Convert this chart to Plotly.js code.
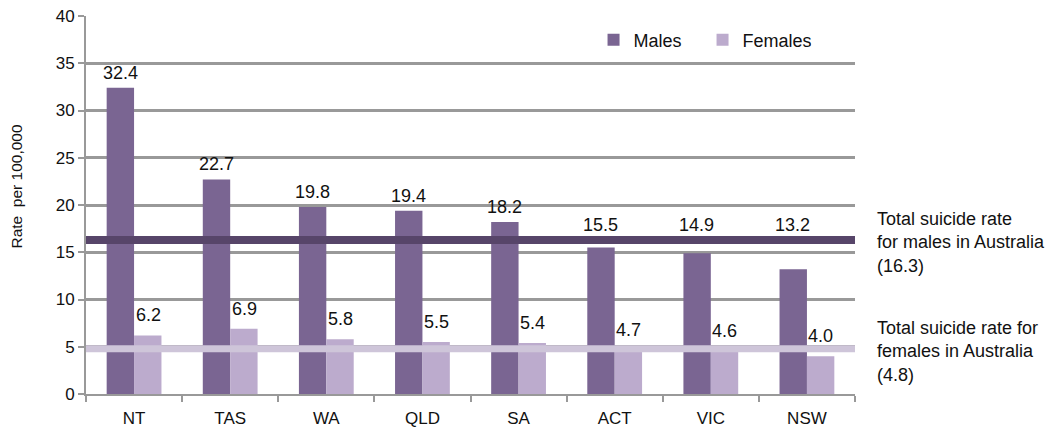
<!DOCTYPE html>
<html><head><meta charset="utf-8">
<script src="https://cdn.plot.ly/plotly-3.0.1.min.js"></script>
<style>body{margin:0;background:#fff}#chart{width:1061px;height:430px}</style>
</head><body><div id="chart"></div>
<script>
const states = ["NT","TAS","WA","QLD","SA","ACT","VIC","NSW"];
const males = [32.4,22.7,19.8,19.4,18.2,15.5,14.9,13.2];
const females = [6.2,6.9,5.8,5.5,5.4,4.7,4.6,4.0];
const maleTotal = 16.3;
const femaleTotal = 4.8;
const yTicks = [0,5,10,15,20,25,30,35,40];

const font = "Liberation Sans, Arial, sans-serif";
const traces = [
  {type:"bar", name:"Males", x:states, y:males, marker:{color:"#7a6592"}},
  {type:"bar", name:"Females", x:states, y:females, marker:{color:"#bcabcd"}}
];

// value labels: male labels sit above the national-total line when the bar is lower
const labelAnns = [];
states.forEach((s, i) => {
  labelAnns.push({x:s, y:Math.max(males[i], maleTotal), xref:"x", yref:"y",
    xshift:-14, yshift:3, yanchor:"bottom", showarrow:false,
    text:males[i].toFixed(1), font:{size:18, color:"#111"}});
  labelAnns.push({x:s, y:females[i], xref:"x", yref:"y",
    xshift:14, yshift:8, yanchor:"bottom", showarrow:false,
    text:females[i].toFixed(1), font:{size:18, color:"#111"}});
});

const layout = {
  width:1061, height:430,
  margin:{l:86, r:206, t:16, b:36},
  paper_bgcolor:"#fff", plot_bgcolor:"#fff",
  font:{family:font, size:17, color:"#111"},
  barmode:"group", bargap:0.43, bargroupgap:0,
  showlegend:true,
  legend:{orientation:"h", x:0.66, y:0.985, xanchor:"left", yanchor:"top",
          font:{size:18}, bgcolor:"rgba(0,0,0,0)", itemwidth:30, entrywidth:64},
  xaxis:{type:"category", tickson:"boundaries", ticks:"outside", ticklen:6,
         tickcolor:"#999", tickwidth:2, showline:true, linecolor:"#999", linewidth:2,
         showgrid:false, tickfont:{size:17}, ticklabelstandoff:8, fixedrange:true},
  yaxis:{range:[0,40], tickvals:yTicks, ticks:"outside", ticklen:6, tickcolor:"#999",
         tickwidth:2, showline:true, linecolor:"#999", linewidth:2,
         gridcolor:"#999", gridwidth:3, zeroline:false, tickfont:{size:17}},
  shapes:[
    {type:"line", xref:"paper", yref:"y", x0:0, x1:1, y0:maleTotal, y1:maleTotal,
     line:{color:"#574569", width:8}, layer:"above"},
    {type:"line", xref:"paper", yref:"y", x0:0, x1:1, y0:femaleTotal, y1:femaleTotal,
     line:{color:"#cec5d9", width:7}, layer:"above"}
  ],
  annotations:labelAnns.concat([
    {xref:"paper", yref:"paper", x:-0.091, y:0.549, xanchor:"center", yanchor:"middle",
     textangle:-90, showarrow:false, font:{size:15.5}, text:"Rate  per 100,000"},
    {xref:"paper", yref:"y", x:1.026, y:maleTotal, xanchor:"left", yanchor:"middle", align:"left",
     showarrow:false, font:{size:18},
     text:"Total suicide rate<br>for males in Australia<br>(" + maleTotal.toFixed(1) + ")", yshift:-3},
    {xref:"paper", yref:"y", x:1.026, y:femaleTotal, xanchor:"left", yanchor:"middle", align:"left",
     showarrow:false, font:{size:18},
     text:"Total suicide rate for<br>females in Australia<br>(" + femaleTotal.toFixed(1) + ")", yshift:-3}
  ])
};
Plotly.newPlot("chart", traces, layout, {displayModeBar:false, staticPlot:true});
</script></body></html>
